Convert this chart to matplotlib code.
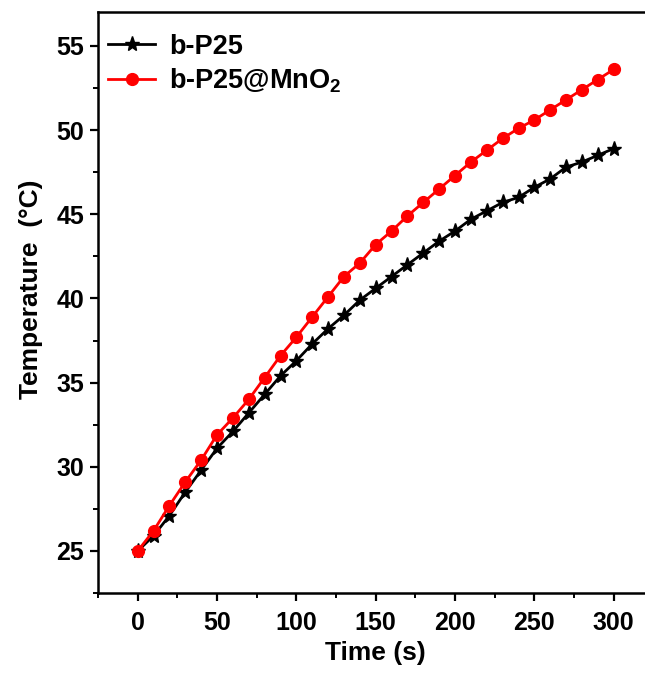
import numpy as np
import matplotlib
matplotlib.use('Agg')
import matplotlib.pyplot as plt
from matplotlib.ticker import MultipleLocator

plt.rcParams['font.family'] = ['Liberation Sans', 'DejaVu Sans']
plt.rcParams['font.weight'] = 'bold'
plt.rcParams['mathtext.fontset'] = 'custom'
plt.rcParams['mathtext.bf'] = 'Liberation Sans:bold'
plt.rcParams['mathtext.rm'] = 'Liberation Sans:bold'
plt.rcParams['mathtext.default'] = 'bf'

time = [0, 10, 20, 30, 40, 50, 60, 70, 80, 90, 100, 110, 120, 130, 140, 150,
        160, 170, 180, 190, 200, 210, 220, 230, 240, 250, 260, 270, 280, 290, 300]
p25 = [25.0, 25.9, 27.1, 28.5, 29.8, 31.1, 32.1, 33.2, 34.3, 35.4, 36.3, 37.3,
       38.2, 39.0, 39.9, 40.6, 41.3, 42.0, 42.7, 43.4, 44.0, 44.7, 45.2, 45.7,
       46.0, 46.6, 47.1, 47.8, 48.1, 48.5, 48.9]
p25_mno2 = [25.0, 26.2, 27.7, 29.1, 30.4, 31.9, 32.9, 34.0, 35.3, 36.6, 37.7,
            38.9, 40.1, 41.3, 42.1, 43.2, 44.0, 44.9, 45.7, 46.5, 47.3, 48.1,
            48.8, 49.5, 50.1, 50.6, 51.2, 51.8, 52.4, 53.0, 53.6]
labels = ['b-P25', r'b-P25@MnO$_2$']

fig = plt.figure(figsize=(6.45, 6.77), dpi=100)
ax = fig.add_axes([0.152, 0.124, 0.861, 0.858])

ax.plot(time, p25, color='black', lw=2.0, marker='*', ms=11, label=labels[0])
ax.plot(time, p25_mno2, color='#ff0000', lw=2.0, marker='o', ms=8.5, label=labels[1])

ax.set_xlim(-25, 325)
ax.set_ylim(22.5, 57)
ax.xaxis.set_major_locator(MultipleLocator(50))
ax.xaxis.set_minor_locator(MultipleLocator(25))
ax.yaxis.set_major_locator(MultipleLocator(5))
ax.yaxis.set_minor_locator(MultipleLocator(2.5))
ax.tick_params(which='major', direction='out', length=6, width=1.6, labelsize=18, pad=4)
ax.tick_params(axis='x', which='major', pad=7)
ax.tick_params(which='minor', direction='out', length=3.5, width=1.4)
ax.tick_params(top=False, right=False, which='both')
for s in ax.spines.values():
    s.set_linewidth(1.8)

ax.set_xlabel('Time (s)', fontsize=19, fontweight='bold', labelpad=4)
ax.set_ylabel('Temperature  (\u00b0C)', fontsize=19, fontweight='bold')
ax.yaxis.set_label_coords(-0.1, 0.523)

ax.legend(loc='upper left', frameon=False, fontsize=19.5, handlelength=1.75,
          borderaxespad=0, borderpad=0, labelspacing=0.25, handletextpad=0.5,
          bbox_to_anchor=(0.018, 0.963))

fig.savefig('out.png', dpi=100, facecolor='white')
